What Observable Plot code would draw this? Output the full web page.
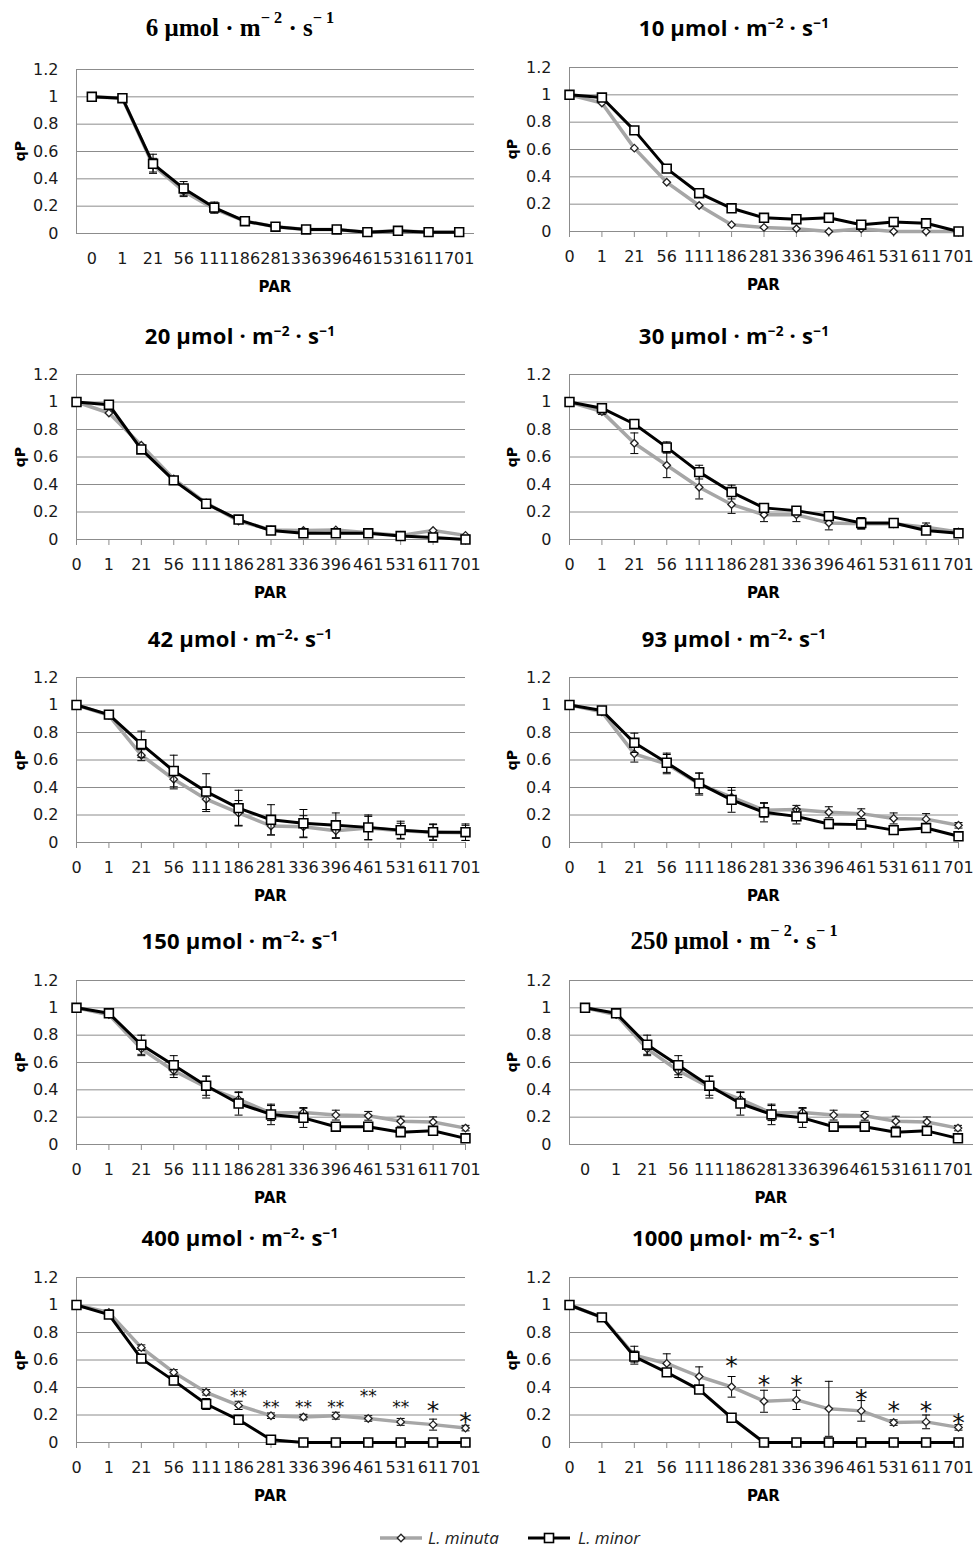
<!DOCTYPE html>
<html><head><meta charset="utf-8">
<script src="https://cdn.jsdelivr.net/npm/d3@7"></script>
<script src="https://cdn.jsdelivr.net/npm/@observablehq/plot@0.6"></script>
<style>
body{margin:0;background:#fff;}
#root{position:relative;width:977px;height:1550px;background:#fff;overflow:hidden;}
.title{position:absolute;transform:translate(-50%,-50%);white-space:nowrap;font-weight:bold;color:#000;line-height:1;}
.sans{font-family:"Open Sans",sans-serif;font-size:22px;letter-spacing:0.2px;}
.serif{font-family:"Liberation Serif",serif;font-size:25px;}
.title sup{font-size:0.62em;vertical-align:0.6em;line-height:0;}
.serif sup{font-size:0.65em;vertical-align:0.75em;}
.ylab{position:absolute;transform:translate(-50%,-50%) rotate(-90deg);font:bold 14px "DejaVu Sans",sans-serif;white-space:nowrap;}
.xlab{position:absolute;transform:translate(-50%,-50%);font:bold 15px "DejaVu Sans",sans-serif;white-space:nowrap;}
.panel{position:absolute;}
.legend{position:absolute;left:0;top:1520px;}
</style></head><body><div id="root"></div>
<script>
// ---------- data ----------
const par = ["0","1","21","56","111","186","281","336","396","461","531","611","701"];
const yTicks = [0,0.2,0.4,0.6,0.8,1,1.2];
const yTickLabels = ["0","0.2","0.4","0.6","0.8","1","1.2"];
const seriesNames = ["L. minuta","L. minor"];

const minuta6 = [1.00,0.99,0.50,0.31,0.18,0.09,0.05,0.03,0.03,0.01,0.02,0.01,0.01];
const minor6  = [1.00,0.99,0.51,0.33,0.19,0.09,0.05,0.03,0.03,0.01,0.02,0.01,0.01];
const minutaErr6 = [0,0.01,0.05,0.04,0.03,0.02,0.01,0.01,0.01,0.01,0.01,0.01,0.01];
const minorErr6  = [0,0.01,0.07,0.05,0.04,0.02,0.01,0.01,0.01,0.01,0.01,0.01,0.01];

const minuta10 = [1.00,0.94,0.61,0.36,0.19,0.05,0.03,0.02,0.00,0.02,0.00,0.00,0.00];
const minor10  = [1.00,0.98,0.74,0.46,0.28,0.17,0.10,0.09,0.10,0.05,0.07,0.06,0.00];
const minutaErr10 = [0,0,0,0,0,0,0,0,0,0,0,0,0];
const minorErr10  = [0,0,0,0,0,0,0,0,0,0,0,0,0];

const minuta20 = [1.00,0.92,0.685,0.44,0.265,0.135,0.07,0.065,0.07,0.05,0.03,0.065,0.03];
const minor20  = [1.00,0.98,0.655,0.43,0.26,0.145,0.065,0.045,0.045,0.045,0.025,0.015,0.00];
const minutaErr20 = [0,0,0,0,0,0,0,0,0,0,0,0,0];
const minorErr20  = [0,0,0,0,0,0,0,0,0,0,0,0,0];

const minuta30 = [1.00,0.93,0.70,0.54,0.38,0.255,0.18,0.18,0.12,0.115,0.115,0.09,0.055];
const minor30  = [1.00,0.955,0.84,0.67,0.49,0.345,0.23,0.21,0.17,0.12,0.12,0.065,0.045];
const minutaErr30 = [0,0.02,0.075,0.09,0.085,0.065,0.05,0.05,0.05,0.04,0.02,0.03,0.01];
const minorErr30  = [0,0.02,0.02,0.04,0.05,0.05,0.02,0.02,0.02,0.04,0.02,0.02,0.01];

const minuta42 = [1.00,0.925,0.635,0.46,0.315,0.215,0.12,0.115,0.085,0.105,0.085,0.075,0.07];
const minor42  = [1.00,0.93,0.715,0.52,0.37,0.25,0.165,0.14,0.125,0.11,0.09,0.075,0.075];
const minutaErr42 = [0,0.02,0.04,0.07,0.09,0.09,0.065,0.08,0.055,0.085,0.055,0.06,0.055];
const minorErr42  = [0,0.03,0.095,0.115,0.13,0.13,0.11,0.10,0.09,0.09,0.065,0.055,0.06];

const minuta93 = [1.00,0.95,0.645,0.57,0.425,0.33,0.235,0.24,0.22,0.21,0.175,0.17,0.125];
const minor93  = [1.00,0.96,0.725,0.58,0.43,0.31,0.22,0.19,0.135,0.13,0.09,0.105,0.045];
const minutaErr93 = [0,0.02,0.06,0.07,0.08,0.05,0.05,0.03,0.04,0.035,0.04,0.04,0.02];
const minorErr93  = [0,0.02,0.07,0.07,0.075,0.09,0.07,0.055,0.02,0.02,0.03,0.02,0.02];

const minuta150 = [1.00,0.95,0.70,0.54,0.42,0.33,0.23,0.235,0.215,0.21,0.17,0.165,0.12];
const minor150  = [1.00,0.96,0.73,0.58,0.43,0.30,0.22,0.195,0.13,0.13,0.09,0.10,0.045];
const minutaErr150 = [0,0.02,0.05,0.05,0.08,0.05,0.055,0.035,0.036,0.032,0.037,0.037,0.02];
const minorErr150  = [0,0.02,0.07,0.07,0.07,0.085,0.075,0.07,0.02,0.02,0.03,0.02,0.02];

const minuta250 = [1.00,0.95,0.70,0.54,0.42,0.33,0.23,0.235,0.215,0.21,0.17,0.165,0.12];
const minor250  = [1.00,0.96,0.73,0.58,0.43,0.30,0.22,0.195,0.13,0.13,0.09,0.10,0.045];
const minutaErr250 = [0,0.02,0.05,0.05,0.08,0.05,0.055,0.035,0.036,0.032,0.037,0.037,0.02];
const minorErr250  = [0,0.02,0.07,0.07,0.07,0.085,0.075,0.07,0.02,0.02,0.03,0.02,0.02];

const minuta400 = [1.00,0.945,0.69,0.51,0.365,0.27,0.195,0.185,0.195,0.175,0.15,0.13,0.105];
const minor400  = [1.00,0.93,0.61,0.45,0.28,0.165,0.02,0,0,0,0,0,0];
const minutaErr400 = [0,0.02,0.02,0.02,0.02,0.03,0.02,0.02,0.025,0.02,0.025,0.04,0.02];
const minorErr400  = [0,0.01,0.02,0.03,0.04,0.02,0.01,0,0,0,0,0,0];
const stars400 = ["","","","","","**","**","**","**","**","**","*","*"];
const starY400 = [0,0,0,0,0,0.365,0.285,0.285,0.285,0.365,0.285,0.28,0.2];

const minuta1000 = [1.00,0.91,0.635,0.575,0.48,0.405,0.30,0.31,0.245,0.23,0.145,0.15,0.11];
const minor1000  = [1.00,0.91,0.625,0.51,0.385,0.18,0,0,0,0,0,0,0];
const minutaErr1000 = [0,0.01,0.065,0.07,0.07,0.075,0.08,0.07,0.2,0.075,0.02,0.05,0.02];
const minorErr1000  = [0,0.01,0.04,0.02,0.02,0.03,0,0,0,0,0,0,0];
const stars1000 = ["","","","","","*","*","*","","*","*","*","*"];
const starY1000 = [0,0,0,0,0,0.605,0.47,0.47,0,0.365,0.28,0.28,0.195];

const titles = [
  "6 μmol · m<sup>− 2</sup> · s<sup>− 1</sup>",
  "10 μmol · m<sup>−2</sup> · s<sup>−1</sup>",
  "20 μmol · m<sup>−2</sup> · s<sup>−1</sup>",
  "30 μmol · m<sup>−2</sup> · s<sup>−1</sup>",
  "42 μmol · m<sup>−2</sup>· s<sup>−1</sup>",
  "93 μmol · m<sup>−2</sup>· s<sup>−1</sup>",
  "150 μmol · m<sup>−2</sup>· s<sup>−1</sup>",
  "250 μmol · m<sup>− 2</sup>· s<sup>− 1</sup>",
  "400 μmol · m<sup>−2</sup>· s<sup>−1</sup>",
  "1000 μmol· m<sup>−2</sup>· s<sup>−1</sup>"
];

// ---------- layout ----------
const panels = [
  {t:0, serif:true,  col:0, x0:76,  x1:474, yTop:69,   yBot:233,  band:true,  mi:minuta6,   mo:minor6,   emi:minutaErr6,   emo:minorErr6},
  {t:1, serif:false, col:1, x0:569, x1:958, yTop:67,   yBot:231,  band:false, mi:minuta10,  mo:minor10,  emi:minutaErr10,  emo:minorErr10},
  {t:2, serif:false, col:0, x0:76,  x1:465, yTop:374,  yBot:539,  band:false, mi:minuta20,  mo:minor20,  emi:minutaErr20,  emo:minorErr20},
  {t:3, serif:false, col:1, x0:569, x1:958, yTop:374,  yBot:539,  band:false, mi:minuta30,  mo:minor30,  emi:minutaErr30,  emo:minorErr30},
  {t:4, serif:false, col:0, x0:76,  x1:465, yTop:677,  yBot:842,  band:false, mi:minuta42,  mo:minor42,  emi:minutaErr42,  emo:minorErr42},
  {t:5, serif:false, col:1, x0:569, x1:958, yTop:677,  yBot:842,  band:false, mi:minuta93,  mo:minor93,  emi:minutaErr93,  emo:minorErr93},
  {t:6, serif:false, col:0, x0:76,  x1:465, yTop:980,  yBot:1144, band:false, mi:minuta150, mo:minor150, emi:minutaErr150, emo:minorErr150},
  {t:7, serif:true,  col:1, x0:569, x1:973, yTop:980,  yBot:1144, band:true,  mi:minuta250, mo:minor250, emi:minutaErr250, emo:minorErr250},
  {t:8, serif:false, col:0, x0:76,  x1:465, yTop:1277, yBot:1442, band:false, mi:minuta400, mo:minor400, emi:minutaErr400, emo:minorErr400, st:stars400, sy:starY400},
  {t:9, serif:false, col:1, x0:569, x1:958, yTop:1277, yBot:1442, band:false, mi:minuta1000,mo:minor1000,emi:minutaErr1000,emo:minorErr1000, st:stars1000, sy:starY1000}
];
const titleX = [240, 734];
const titleY = [27, 335, 638, 940, 1237];

const root = document.getElementById("root");
const capSymbol = {draw(ctx){ ctx.moveTo(-4,0); ctx.lineTo(4,0); }};
const GRID = "#8c8c8c", GRAY = "#a6a6a6";

panels.forEach((p, k) => {
  const colX = p.col === 0 ? 0 : 490;
  const W = 487;
  const mt = 12, mb = 42;
  const rows = (vals, errs) => vals.map((v, i) => ({i, v, lo: v - errs[i], hi: v + errs[i], e: errs[i]}));
  const A = rows(p.mi, p.emi), B = rows(p.mo, p.emo);
  const caps = R => R.filter(d => d.e > 0).flatMap(d => [{i: d.i, y: d.lo}, {i: d.i, y: d.hi}]);
  const domain = p.band ? [-0.5, 12.5] : [0, 12];
  const idx = d3.range(par.length);
  const marks = [
    Plot.ruleY(yTicks, {stroke: GRID, strokeWidth: 1}),
    Plot.ruleX([domain[0]], {y1: 0, y2: 1.2, stroke: GRID}),
    Plot.axisY({ticks: yTicks, tickFormat: d => yTickLabels[yTicks.indexOf(d)], tickSize: 0, tickPadding: 18, fill: "#1a1a1a", fontSize: 16, label: null}),
    Plot.axisX({ticks: idx, tickFormat: i => par[i], tickSize: p.band ? 0 : 6, tickPadding: p.band ? 19 : 13, stroke: GRID, fill: "#1a1a1a", fontSize: 16, label: null}),
    Plot.line(A, {x: "i", y: "v", stroke: GRAY, strokeWidth: 3.5}),
    Plot.ruleX(A.filter(d => d.e > 0), {x: "i", y1: "lo", y2: "hi", stroke: "#000", strokeWidth: 1}),
    Plot.dot(caps(A), {x: "i", y: "y", symbol: capSymbol, r: 4, stroke: "#000", fill: "none", strokeWidth: 1}),
    Plot.dot(A, {x: "i", y: "v", symbol: "diamond2", r: 3.4, fill: "white", stroke: "#222", strokeWidth: 1.3}),
    Plot.line(B, {x: "i", y: "v", stroke: "#000", strokeWidth: 3}),
    Plot.ruleX(B.filter(d => d.e > 0), {x: "i", y1: "lo", y2: "hi", stroke: "#000", strokeWidth: 1}),
    Plot.dot(caps(B), {x: "i", y: "y", symbol: capSymbol, r: 4, stroke: "#000", fill: "none", strokeWidth: 1}),
    Plot.dot(B, {x: "i", y: "v", symbol: "square", r: 5, fill: "white", stroke: "#000", strokeWidth: 1.6})
  ];
  if (p.st) {
    const S = p.st.map((t, i) => ({i, t, y: p.sy[i]})).filter(d => d.t);
    marks.push(Plot.text(S.filter(d => d.t.length === 2), {x: "i", y: "y", text: "t", fontSize: 17, dy: 4, fill: "#111", fontFamily: "DejaVu Sans"}));
    marks.push(Plot.text(S.filter(d => d.t.length === 1), {x: "i", y: "y", text: "t", fontSize: 25, dy: 7, fill: "#111", fontFamily: "DejaVu Sans"}));
  }
  const chart = Plot.plot({
    width: W, height: (p.yBot - p.yTop) + mt + mb,
    marginLeft: p.x0 - colX, marginRight: W - (p.x1 - colX), marginTop: mt, marginBottom: mb,
    style: {fontFamily: "DejaVu Sans, sans-serif", fontSize: "16px", background: "transparent", overflow: "visible"},
    x: {type: "linear", domain, axis: null},
    y: {domain: [0, 1.2], axis: null},
    marks
  });
  chart.classList.add("panel");
  chart.style.left = colX + "px";
  chart.style.top = (p.yTop - mt) + "px";
  root.appendChild(chart);

  const tt = document.createElement("div");
  tt.className = "title " + (p.serif ? "serif" : "sans");
  tt.innerHTML = titles[p.t];
  tt.style.left = titleX[p.col] + "px";
  tt.style.top = titleY[Math.floor(k / 2)] + "px";
  root.appendChild(tt);

  const yl = document.createElement("div");
  yl.className = "ylab"; yl.textContent = "qP";
  yl.style.left = (colX + (p.col === 0 ? 20 : 22)) + "px";
  yl.style.top = ((p.yTop + p.yBot) / 2) + "px";
  root.appendChild(yl);

  const xl = document.createElement("div");
  xl.className = "xlab"; xl.textContent = "PAR";
  xl.style.left = ((p.x0 + p.x1) / 2) + "px";
  xl.style.top = (p.yBot + 54) + "px";
  root.appendChild(xl);
});

// ---------- legend ----------
const lg = d3.select(root).append("svg").attr("class", "legend").attr("width", 977).attr("height", 30);
const ly = 18;
lg.append("line").attr("x1", 380).attr("x2", 422).attr("y1", ly).attr("y2", ly).attr("stroke", GRAY).attr("stroke-width", 3.5);
lg.append("path").attr("d", d3.symbol(d3.symbolDiamond2, 36)()).attr("transform", `translate(401,${ly})`).attr("fill", "white").attr("stroke", "#222").attr("stroke-width", 1.3);
lg.append("text").attr("x", 428).attr("y", ly + 6).text(seriesNames[0]).attr("font-family", "Open Sans").attr("font-style", "italic").attr("font-size", 17).attr("fill", "#222");
lg.append("line").attr("x1", 528).attr("x2", 570).attr("y1", ly).attr("y2", ly).attr("stroke", "#000").attr("stroke-width", 3);
lg.append("rect").attr("x", 544.5).attr("y", ly - 4.5).attr("width", 9).attr("height", 9).attr("fill", "white").attr("stroke", "#000").attr("stroke-width", 1.6);
lg.append("text").attr("x", 578).attr("y", ly + 6).text(seriesNames[1]).attr("font-family", "Open Sans").attr("font-style", "italic").attr("font-size", 17).attr("fill", "#222");
</script>
</body></html>
